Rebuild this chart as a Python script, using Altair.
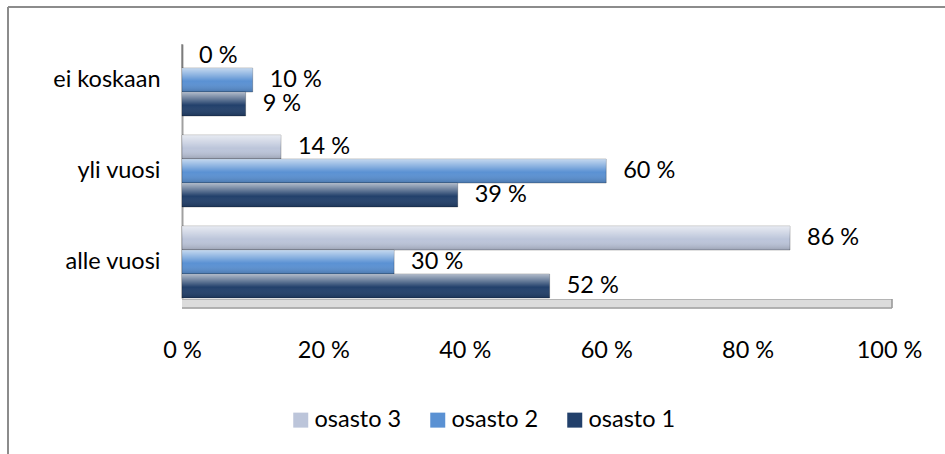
import altair as alt
import pandas as pd

# ---- data ----
categories = ["ei koskaan", "yli vuosi", "alle vuosi"]
series = ["osasto 3", "osasto 2", "osasto 1"]
osasto3 = [0, 14, 86]
osasto2 = [10, 60, 30]
osasto1 = [9, 39, 52]
x_ticks = [0, 20, 40, 60, 80, 100]
colors = ["#bcc5da", "#5a91d3", "#22406b"]

values = {"osasto 3": osasto3, "osasto 2": osasto2, "osasto 1": osasto1}
rows = []
for s in series:
    for c, v in zip(categories, values[s]):
        rows.append({"category": c, "series": s, "value": v})
df = pd.DataFrame(rows)

W, H = 707, 272
FONT = "Lato"
FS = 23.5

x_enc = alt.X(
    "value:Q",
    scale=alt.Scale(domain=[0, 100], nice=False),
    axis=alt.Axis(values=x_ticks, labelExpr="datum.value + ' %'", title=None,
                  ticks=False, domain=False, grid=False, labelFontSize=FS,
                  labelFont=FONT, labelColor="black", labelPadding=30,
                  labelFlush=False, labelOverlap=False),
)
y_enc = alt.Y(
    "category:N", sort=categories,
    scale=alt.Scale(range=[8, 262], paddingInner=19 / 91, paddingOuter=0),
    axis=alt.Axis(title=None, ticks=False, labelFontSize=FS, labelFont=FONT,
                  labelColor="black", labelPadding=22, domainColor="#a0a0a0",
                  domainWidth=2),
)
yoff_enc = alt.YOffset("series:N", sort=series,
                       scale=alt.Scale(paddingInner=0, paddingOuter=0))

base = alt.Chart(df)

bars = base.mark_bar(stroke="rgba(0,0,0,0.30)", strokeWidth=0.8).encode(
    x=x_enc, y=y_enc, yOffset=yoff_enc,
    color=alt.Color(
        "series:N",
        scale=alt.Scale(domain=series, range=colors),
        legend=alt.Legend(orient="none", legendX=107, legendY=372,
                          direction="horizontal", columns=3, title=None,
                          symbolType="square", symbolSize=225,
                          labelFontSize=FS, labelFont=FONT, labelColor="black",
                          labelOffset=2, columnPadding=24, padding=0,
                          symbolStrokeWidth=0, symbolOpacity=1),
    ),
)

gloss = alt.Gradient(
    gradient="linear", x1=0, x2=0, y1=0, y2=1,
    stops=[
        alt.GradientStop(color="rgba(255,255,255,0.65)", offset=0),
        alt.GradientStop(color="rgba(255,255,255,0.30)", offset=0.3),
        alt.GradientStop(color="rgba(255,255,255,0.0)", offset=0.55),
        alt.GradientStop(color="rgba(0,0,0,0.18)", offset=1),
    ],
)
shine = base.mark_bar(fill=gloss, strokeWidth=0).encode(
    x=x_enc, y=y_enc, yOffset=yoff_enc
)

labels = base.transform_calculate(label="datum.value + ' %'").mark_text(
    align="left", baseline="middle", dx=17, fontSize=FS, font=FONT, color="black"
).encode(x=x_enc, y=y_enc, yOffset=yoff_enc, text="label:N")

deco = alt.Chart(pd.DataFrame({"k": [0]}))
# 3-D floor under the bars
floor_fill = deco.mark_rule(color="#dcdcdc", strokeWidth=8).encode(
    x=alt.value(0), x2=alt.value(710), y=alt.value(267.5)
)
floor_top = deco.mark_rule(color="#b4b4b4", strokeWidth=1).encode(
    x=alt.value(0), x2=alt.value(710), y=alt.value(263.5)
)
floor_bottom = deco.mark_rule(color="#9a9a9a", strokeWidth=1.5).encode(
    x=alt.value(0), x2=alt.value(710), y=alt.value(272)
)
floor_right = deco.mark_rule(color="#9a9a9a", strokeWidth=9).encode(
    x=alt.value(709.2), x2=alt.value(710.8), y=alt.value(267.5)
)
border_top = deco.mark_rule(color="#8c8c8c", strokeWidth=2).encode(
    x=alt.value(-174), x2=alt.value(900), y=alt.value(-29)
)
border_left = deco.mark_rule(color="#8c8c8c", strokeWidth=2).encode(
    x=alt.value(-174), y=alt.value(-29), y2=alt.value(500)
)

chart = alt.layer(
    border_top, border_left, floor_fill, floor_top, floor_bottom, floor_right,
    bars, shine, labels
).properties(
    width=W, height=H, background="white",
    padding={"left": 182, "top": 36, "right": 56, "bottom": 146},
    autosize=alt.AutoSizeParams(type="none"),
).configure_view(stroke="transparent", strokeWidth=0)

chart.save("out.html", embed_options={"renderer": "svg", "actions": False})
